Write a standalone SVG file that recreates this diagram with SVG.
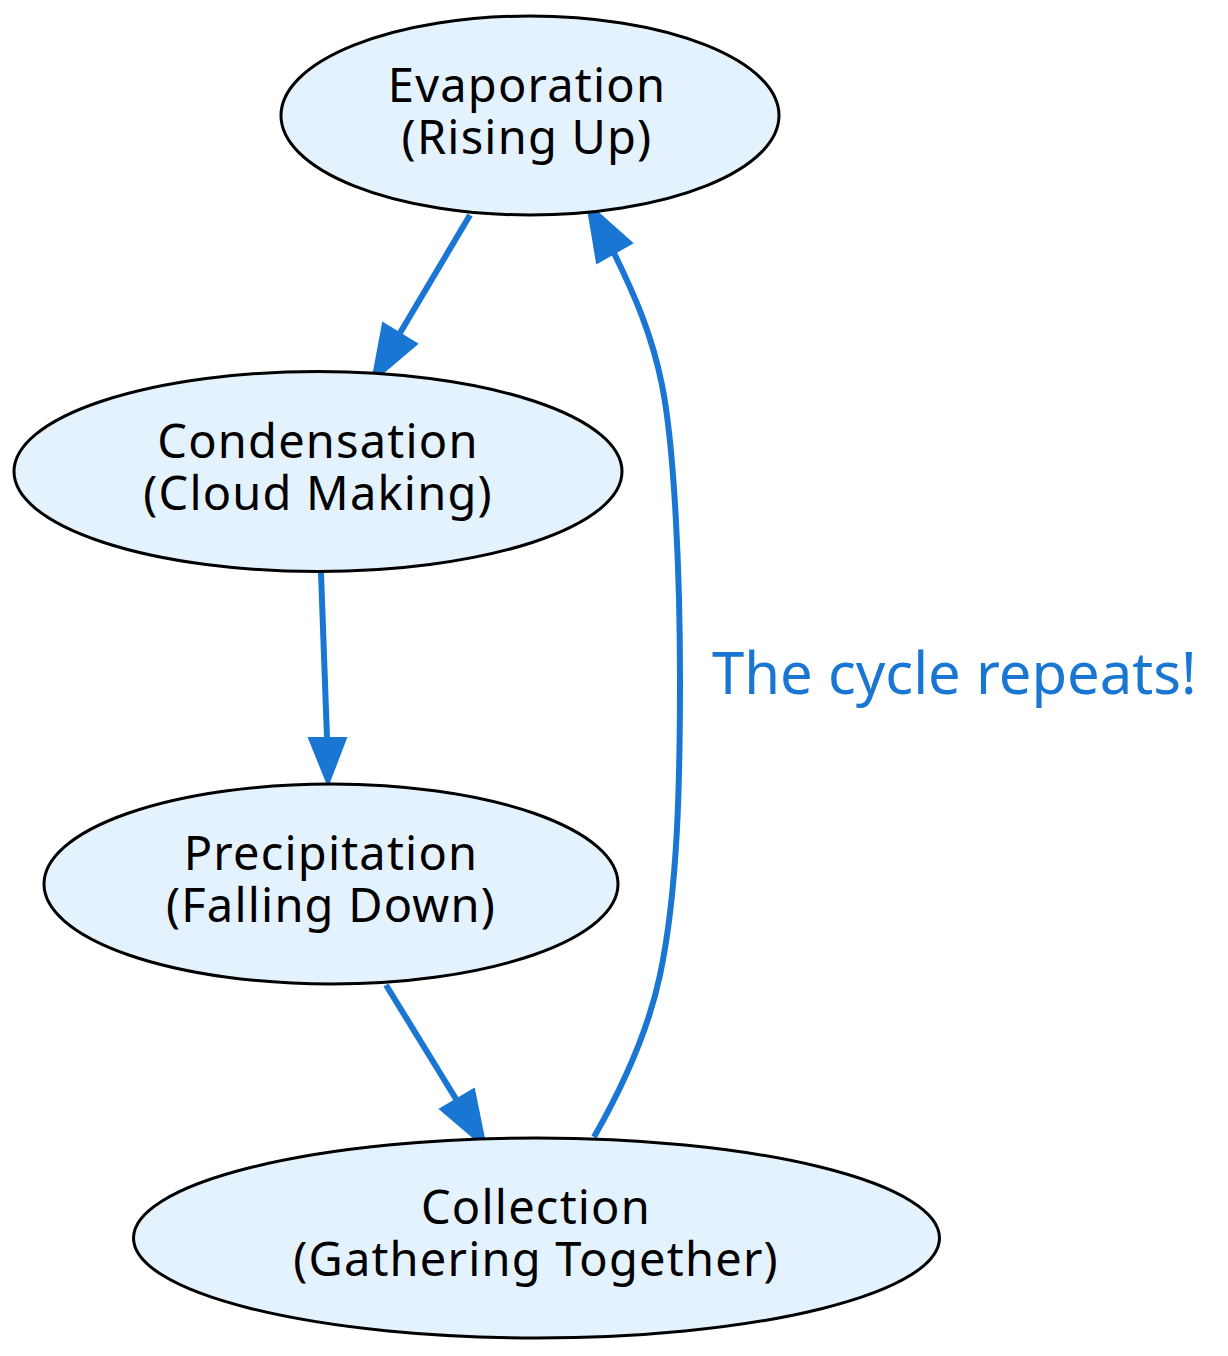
<svg xmlns="http://www.w3.org/2000/svg" width="1228" height="1356" viewBox="0 0 1228 1356">
<style>
.node ellipse{fill:#E3F2FD;stroke:#000;stroke-width:3}
.node text{font-family:"Noto Sans","Open Sans",sans-serif;font-size:47px;letter-spacing:1.2px;fill:#000;text-anchor:middle}
.edge path{fill:none;stroke:#1976D2;stroke-width:6}
.edge polygon{fill:#1976D2;stroke:#1976D2;stroke-width:2}
.elabel{font-family:"Noto Sans","Open Sans",sans-serif;font-size:58px;fill:#1976D2}
</style>
<rect width="1228" height="1356" fill="#fff"/>
<g id="connectors" class="edge">
<path d="M470,215 L400,333"/>
<polygon points="383,323 417,344 372,382"/>
<path d="M321,573 L327,738"/>
<polygon points="309,738 346,738 328,785"/>
<path d="M386,985 L456,1099"/>
<polygon points="440,1109 474,1089 486,1148"/>
<path d="M594,1137 C622,1088 648,1032 660,975 C678,890 680,780 680,680 C680,580 675,450 662,385 C652,335 635,296 614,253"/>
<polygon points="597,263 632,243 587,203"/>
<text class="elabel" x="712" y="694">The cycle repeats!</text>
</g>
<g id="evaporation" class="node">
<ellipse cx="530" cy="115.5" rx="249" ry="99.5"/>
<text x="527" y="102">Evaporation</text>
<text x="527" y="154">(Rising Up)</text>
</g>
<g id="condensation" class="node">
<ellipse cx="318" cy="471.5" rx="304" ry="100"/>
<text x="318" y="458">Condensation</text>
<text x="318" y="510">(Cloud Making)</text>
</g>
<g id="precipitation" class="node">
<ellipse cx="331" cy="884" rx="287" ry="100"/>
<text x="331" y="870">Precipitation</text>
<text x="331" y="922">(Falling Down)</text>
</g>
<g id="collection" class="node">
<ellipse cx="536.5" cy="1238" rx="403" ry="100"/>
<text x="536" y="1224">Collection</text>
<text x="536" y="1276">(Gathering Together)</text>
</g>
</svg>
